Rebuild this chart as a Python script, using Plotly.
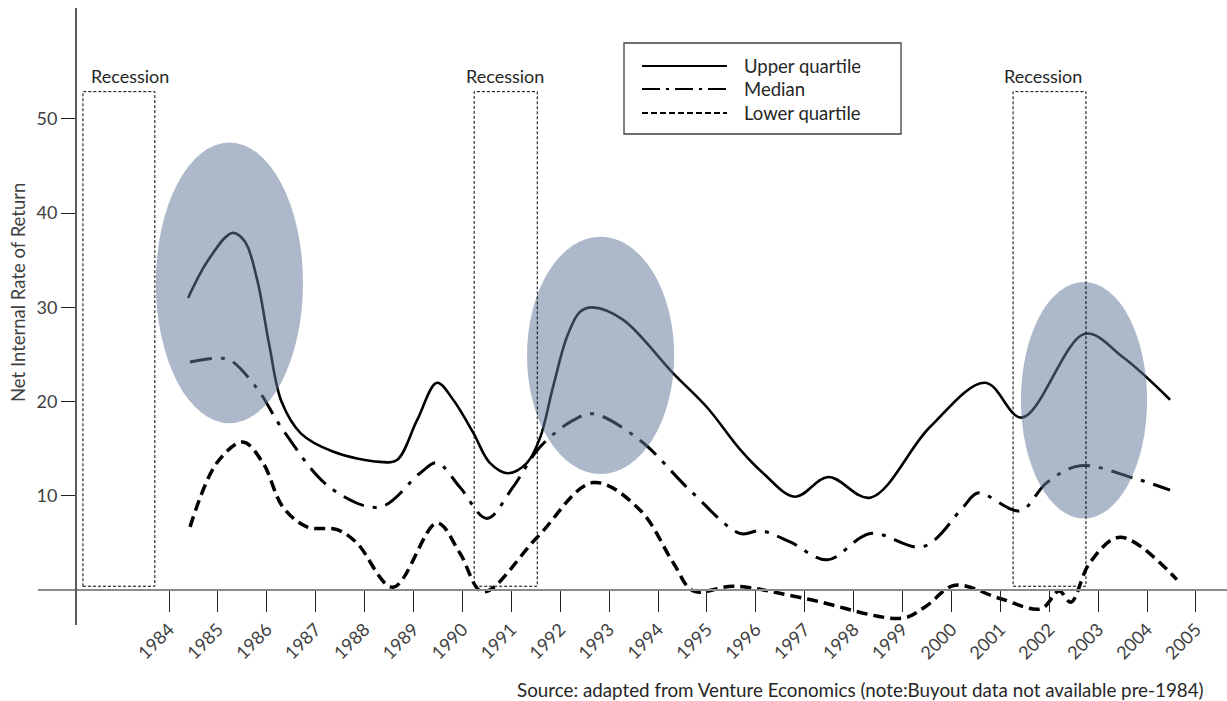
import plotly.graph_objects as go

# ---- data -------------------------------------------------------------
year_labels = ["1984", "1985", "1986", "1987", "1988", "1989", "1990", "1991",
               "1992", "1993", "1994", "1995", "1996", "1997", "1998", "1999",
               "2000", "2001", "2002", "2003", "2004", "2005"]
y_ticks = [10, 20, 30, 40, 50]

upper_x = [1984.39, 1984.80, 1985.29, 1985.55, 1985.80, 1986.05, 1986.30, 1986.70,
           1987.35, 1988.31, 1988.66, 1989.07, 1989.48, 1989.81, 1990.22, 1990.56,
           1990.93, 1991.32, 1991.59, 1991.85, 1992.14, 1992.40, 1992.65, 1993.28,
           1994.31, 1995.00, 1995.68, 1996.15, 1996.80, 1997.48, 1998.34, 1999.56,
           2000.69, 2001.44, 2002.73, 2003.51, 2004.47]
upper_y = [31.0, 35.0, 37.9, 37.0, 33.0, 26.0, 20.0, 16.6,
           14.7, 13.6, 13.8, 18.0, 22.0, 20.2, 16.7, 13.5,
           12.4, 13.5, 16.2, 21.5, 26.9, 29.5, 30.0, 28.7,
           23.0, 19.4, 14.9, 12.4, 9.9, 12.0, 9.8, 17.3,
           22.0, 18.3, 27.2, 24.7, 20.2]

median_x = [1984.43, 1984.98, 1985.25, 1985.80, 1986.33, 1987.29, 1988.31, 1989.13,
            1989.48, 1989.95, 1990.50, 1991.03, 1991.59, 1992.26, 1992.67, 1993.63,
            1994.65, 1995.68, 1996.10, 1996.70, 1997.46, 1998.34, 1999.42, 2000.24,
            2000.54, 2001.40, 2001.95, 2002.63, 2003.71, 2004.47]
median_y = [24.2, 24.6, 24.4, 21.4, 17.0, 10.9, 8.8, 12.4,
            13.5, 10.9, 7.6, 10.9, 15.2, 18.0, 18.7, 15.9,
            10.6, 6.0, 6.3, 5.1, 3.2, 6.0, 4.6, 8.8,
            10.3, 8.4, 11.4, 13.2, 11.9, 10.6]

lower_x = [1984.43, 1984.98, 1985.51, 1985.92, 1986.33, 1986.82, 1987.44, 1987.84,
           1988.58, 1989.48, 1989.95, 1990.42, 1991.53, 1992.67, 1993.63, 1994.31,
           1994.72, 1995.55, 1997.00, 1998.99, 1999.46, 2000.07, 2000.99, 2001.83,
           2002.20, 2002.44, 2002.83, 2003.45, 2004.61]
lower_y = [6.7, 13.5, 15.7, 13.5, 8.8, 6.7, 6.4, 5.0,
           0.3, 7.1, 3.9, -0.2, 5.6, 11.4, 8.5, 2.9,
           -0.1, 0.4, -0.9, -3.0, -1.8, 0.5, -0.9, -2.0,
           -0.1, -1.3, 2.9, 5.6, 1.1]

recession_start = [1982.24, 1990.24, 2001.26]
recession_end = [1983.71, 1991.53, 2002.75]
recession_top = 52.9

# highlighted peaks: (x0, x1, y0, y1) in axis units
highlights = [(1983.73, 1986.74, 17.7, 47.5),
              (1991.32, 1994.33, 12.3, 37.5),
              (2001.42, 2004.00, 7.6, 32.7)]

# ---- layout geometry --------------------------------------------------
W, H = 1227, 701
M_L, M_R, M_T, M_B = 38, 0, 8, 76
PW, PH = W - M_L - M_R, H - M_T - M_B

def px(x):
    return (x - M_L) / PW

def py(y):
    return (H - M_B - y) / PH

FONT = "Lato"
TXT = "#404040"
DARK = "#262626"

fig = go.Figure()

fig.add_trace(go.Scatter(x=upper_x, y=upper_y, mode="lines", name="Upper quartile",
                         line=dict(color="black", width=2.6, shape="spline", smoothing=1.0),
                         showlegend=False))
fig.add_trace(go.Scatter(x=median_x, y=median_y, mode="lines", name="Median",
                         line=dict(color="black", width=3, shape="spline", smoothing=1.0,
                                   dash="22px,9px,4px,9px"),
                         showlegend=False))
fig.add_trace(go.Scatter(x=lower_x, y=lower_y, mode="lines", name="Lower quartile",
                         line=dict(color="black", width=3.5, shape="spline", smoothing=1.0,
                                   dash="11px,6px"),
                         showlegend=False))

shapes = []
for (x0, x1, y0, y1) in highlights:
    shapes.append(dict(type="circle", xref="x", yref="y", x0=x0, x1=x1, y0=y0, y1=y1,
                       fillcolor="rgba(97,120,155,0.52)", line=dict(width=0),
                       layer="above"))
for s, e in zip(recession_start, recession_end):
    shapes.append(dict(type="rect", xref="x", yref="y", x0=s, x1=e, y0=0.4, y1=recession_top,
                       line=dict(color="black", width=1, dash="3px,2px"),
                       fillcolor="rgba(0,0,0,0)", layer="above"))

# legend box
shapes.append(dict(type="rect", xref="paper", yref="paper",
                   x0=px(624), x1=px(901), y0=py(134), y1=py(43),
                   line=dict(color="#404040", width=1.3), fillcolor="white", layer="above"))
legend_rows = [("Upper quartile", "solid", 2.2, 66),
               ("Median", "18px,6px,3px,6px", 2.2, 89),
               ("Lower quartile", "6px,3px", 1.8, 113)]
annotations = []
for name, dash, w, yy in legend_rows:
    shapes.append(dict(type="line", xref="paper", yref="paper",
                       x0=px(642), x1=px(727), y0=py(yy), y1=py(yy),
                       line=dict(color="black", width=w, dash=dash), layer="above"))
    annotations.append(dict(xref="paper", yref="paper", x=px(742), y=py(yy),
                            text=name, showarrow=False, xanchor="left", yanchor="middle",
                            font=dict(family=FONT, size=18.5, color=DARK)))

recession_label_x = [1983.2, 1990.87, 2001.87]
for lx in recession_label_x:
    annotations.append(dict(xref="x", yref="y", x=lx, y=54.6, text="Recession",
                            showarrow=False, xanchor="center", yanchor="middle",
                            font=dict(family=FONT, size=18, color=DARK)))

annotations.append(dict(xref="paper", yref="paper", x=px(18), y=py(293),
                        text="Net Internal Rate of Return", textangle=-90,
                        showarrow=False, xanchor="center", yanchor="middle",
                        font=dict(family=FONT, size=18.5, color=TXT)))
annotations.append(dict(xref="paper", yref="paper", x=px(1206), y=py(689),
                        text="Source: adapted from Venture Economics (note:Buyout data not available pre-1984)",
                        showarrow=False, xanchor="right", yanchor="middle",
                        font=dict(family=FONT, size=18.8, color=DARK)))

fig.update_layout(
    width=W, height=H,
    margin=dict(l=M_L, r=M_R, t=M_T, b=M_B),
    paper_bgcolor="white", plot_bgcolor="white",
    showlegend=False,
    shapes=shapes, annotations=annotations,
    xaxis=dict(range=[1981.321, 2005.634], anchor="free", position=py(590),
               showline=True, linecolor="#8a8a8a", linewidth=2,
               tickmode="array", tickvals=[int(t) for t in year_labels], ticktext=year_labels,
               ticks="outside", ticklen=21, tickwidth=1, tickcolor="#222",
               tickangle=-45, tickfont=dict(family=FONT, size=18, color=TXT),
               showgrid=False, zeroline=False),
    yaxis=dict(range=[-3.716, 61.78], anchor="free", position=px(76),
               showline=True, linecolor="#5a5a5a", linewidth=2,
               tickmode="array", tickvals=y_ticks, ticktext=[str(v) for v in y_ticks],
               ticks="outside", ticklen=14, tickwidth=1, tickcolor="#222",
               tickfont=dict(family=FONT, size=18, color=TXT),
               showgrid=False, zeroline=False),
)

fig.write_html("out.html")
